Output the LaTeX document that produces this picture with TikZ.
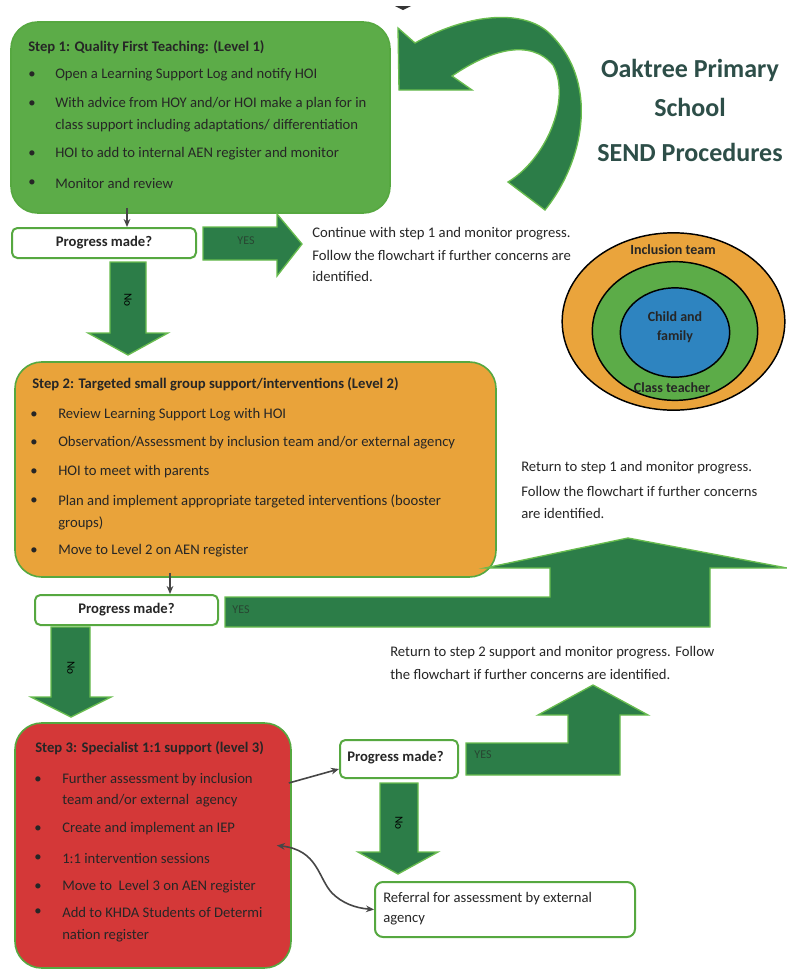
\documentclass[tikz,border=0pt]{standalone}
\usepackage{fontspec}
\setmainfont{Carlito}
\usetikzlibrary{fit,calc,arrows.meta,shapes.geometric}
\definecolor{stepgreen}{RGB}{92,172,72}
\definecolor{steporange}{RGB}{233,163,58}
\definecolor{stepred}{RGB}{212,56,56}
\definecolor{edgegreen}{RGB}{86,168,64}
\definecolor{arrowgreen}{RGB}{44,125,72}
\definecolor{arrowedge}{RGB}{104,188,78}
\definecolor{titlecol}{RGB}{45,78,72}
\definecolor{textcol}{RGB}{38,38,38}
\definecolor{circorange}{RGB}{234,164,60}
\definecolor{circgreen}{RGB}{92,172,72}
\definecolor{circblue}{RGB}{46,132,192}
\definecolor{arrowgray}{RGB}{70,70,70}
\definecolor{yescol}{RGB}{40,70,50}
\newcommand\bodyfont{\fontsize{11}{13}\selectfont}
\newcommand\sidefont{\fontsize{11}{13}\selectfont}
\tikzset{
  stepbox/.style={draw=edgegreen, line width=1.2pt, rounded corners=20pt, inner sep=0pt},
  pbox/.style={draw=edgegreen, line width=1.5pt, fill=white, rounded corners=4pt, inner sep=0pt},
  txt/.style={anchor=west, inner sep=0pt, font=\bodyfont, text=textcol},
  ttl/.style={anchor=west, inner sep=0pt, font=\bodyfont\bfseries, text=textcol},
  side/.style={anchor=west, inner sep=0pt, font=\sidefont, text=textcol},
  bul/.style={anchor=center, inner sep=0pt, font=\bodyfont, text=textcol},
  blockarrow/.style={fill=arrowgreen, draw=arrowedge, line width=1pt, line join=miter},
  yeslbl/.style={inner sep=0pt, font=\fontsize{9}{10}\selectfont, text=yescol},
  nolbl/.style={inner sep=0pt, font=\fontsize{8.5}{10}\selectfont, rotate=-90, text=black},
  thinarr/.style={-{Stealth[length=6pt,width=5pt]}, line width=1.2pt, draw=arrowgray},
  circ/.style={ellipse, draw=black, line width=1.1pt, inner sep=0pt},
  circlbl/.style={inner sep=0pt, font=\fontsize{10.5}{12}\selectfont\bfseries, text=textcol},
  bigtitle/.style={inner sep=0pt, font=\fontsize{19.5}{22}\selectfont\bfseries, text=titlecol}
}
\begin{document}
\begin{tikzpicture}[x=0.75pt,y=-0.75pt]
\useasboundingbox (0,0) rectangle (787,975);
\fill[white] (0,0) rectangle (787,975);

% ---------- big curved arrow ----------
\fill[arrowgreen, draw=arrowedge, line width=1pt, line join=miter]
  (545,210) .. controls (585,160) and (600,80) .. (548,32)
  .. controls (520,8) and (465,15) .. (415,43)
  -- (398,28) -- (399,90) -- (472,90) -- (452,76)
  .. controls (490,50) and (530,38) .. (553,65)
  .. controls (572,100) and (545,160) .. (508,182) -- cycle;
\fill[black!80] (395,6) -- (411,6) -- (403,10) -- cycle;

% ---------- title ----------
\node[bigtitle] (title1) at (690,70) {Oaktree Primary};
\node[bigtitle] (title2) at (690,107) {School};
\node[bigtitle] (title3) at (690,152) {SEND Procedures};

% ---------- step 1 ----------
\node[stepbox, fill=stepgreen, fit={(11,22)(390,213)}] (s1) {};
\node[ttl] (s1t) at (28,47) {Step 1: Quality First Teaching: (Level 1)};
\node[bul] (s1b1) at (32,75) {\textbullet};
\node[txt] (s1l1) at (55,75) {Open a Learning Support Log and notify HOI};
\node[bul] (s1b2) at (32,104) {\textbullet};
\node[txt] (s1l2) at (55,104) {With advice from HOY and/or HOI make a plan for in};
\node[txt] (s1l3) at (55,126) {class support including adaptations/ differentiation};
\node[bul] (s1b3) at (32,154) {\textbullet};
\node[txt] (s1l4) at (55,154) {HOI to add to internal AEN register and monitor};
\node[bul] (s1b4) at (32,183) {\textbullet};
\node[txt] (s1l5) at (55,183) {Monitor and review};

\node[pbox, fit={(12,228)(196,258)}] (p1) {};
\node[ttl, anchor=center] (p1t) at (p1.center) {Progress made?};
\coordinate (c1) at (127,0);
\draw[thinarr] ($(s1.south -| c1)+(0,-6)$) -- (p1.north -| c1);

% yes arrow 1
\fill[blockarrow] (203,227) -- (277,227) -- (277,214) -- (302,244) -- (277,276) -- (277,260) -- (203,260) -- cycle;
\node[yeslbl] (y1) at (246,241) {YES};
\node[side] (c1a) at (312,234) {Continue with step 1 and monitor progress.};
\node[side] (c1b) at (312,255) {Follow the flowchart if further concerns are};
\node[side] (c1c) at (312,276) {identified.};

% no arrow 1
\fill[blockarrow] (110,262) -- (146,262) -- (146,333) -- (168,333) -- (128,355) -- (88,333) -- (110,333) -- cycle;
\node[nolbl] (n1) at (128,300) {No};

% ---------- circles ----------
\node[circ, fill=circorange, minimum width=167pt, minimum height=133pt] (co) at (673.5,321.5) {};
\node[circ, fill=circgreen, minimum width=124pt, minimum height=104pt] (cg) at (675,331) {};
\node[circ, fill=circblue, minimum width=82pt, minimum height=67pt] (cb) at (675,332.5) {};
\node[circlbl] (lo) at (673,250) {Inclusion team};
\node[circlbl, align=center] (lb) at (675,327) {Child and\\[2pt]family};
\node[circlbl] (lg) at (672,388) {Class teacher};

% ---------- step 2 ----------
\node[stepbox, fill=steporange, fit={(15,362)(496,577)}] (s2) {};
\node[ttl] (s2t) at (32,384) {Step 2: Targeted small group support/interventions (Level 2)};
\node[bul] (s2b1) at (34,415) {\textbullet};
\node[txt] (s2l1) at (58,415) {Review Learning Support Log with HOI};
\node[bul] (s2b2) at (34,443) {\textbullet};
\node[txt] (s2l2) at (58,443) {Observation/Assessment by inclusion team and/or external agency};
\node[bul] (s2b3) at (34,472) {\textbullet};
\node[txt] (s2l3) at (58,472) {HOI to meet with parents};
\node[bul] (s2b4) at (34,501) {\textbullet};
\node[txt] (s2l4) at (58,501) {Plan and implement appropriate targeted interventions (booster};
\node[txt] (s2l5) at (58,523) {groups)};
\node[bul] (s2b5) at (34,551) {\textbullet};
\node[txt] (s2l6) at (58,551) {Move to Level 2 on AEN register};

\node[side] (r1a) at (521,468) {Return to step 1 and monitor progress.};
\node[side] (r1b) at (521,491) {Follow the flowchart if further concerns};
\node[side] (r1c) at (521,513) {are identified.};

\node[pbox, fit={(35,595)(218,625)}] (p2) {};
\node[ttl, anchor=center] (p2t) at (p2.center) {Progress made?};
\coordinate (c2) at (170,0);
\draw[thinarr] ($(s2.south -| c2)+(0,-5)$) -- (p2.north -| c2);

% yes arrow 2
\fill[blockarrow] (225,597) -- (550,597) -- (550,568) -- (485,568) -- (628,538) -- (787,568) -- (710,568) -- (710,627) -- (225,627) -- cycle;
\node[yeslbl] (y2) at (241,610) {YES};

% no arrow 2
\fill[blockarrow] (51,627) -- (90,627) -- (90,697) -- (111,697) -- (71,717) -- (31,697) -- (51,697) -- cycle;
\node[nolbl] (n2) at (71,668) {No};

% ---------- step 3 ----------
\node[stepbox, fill=stepred, fit={(15,723)(291,968)}] (s3) {};
\node[ttl] (s3t) at (35,748) {Step 3: Specialist 1:1 support (level 3)};
\node[bul] (s3b1) at (38,780) {\textbullet};
\node[txt] (s3l1) at (62,780) {Further assessment by inclusion};
\node[txt] (s3l2) at (62,801) {team and/or external\ \ agency};
\node[bul] (s3b2) at (38,829) {\textbullet};
\node[txt] (s3l3) at (62,829) {Create and implement an IEP};
\node[bul] (s3b3) at (38,858) {\textbullet};
\node[txt] (s3l4) at (62,858) {1:1 intervention sessions};
\node[bul] (s3b4) at (38,887) {\textbullet};
\node[txt] (s3l5) at (62,887) {Move to\ \ Level 3 on AEN register};
\node[bul] (s3b5) at (38,912) {\textbullet};
\node[txt] (s3l6) at (62,912) {Add to KHDA Students of Determi};
\node[txt] (s3l7) at (62,936) {nation register};

\node[pbox, fit={(340,740)(458,778)}] (p3) {};
\node[ttl] (p3t) at (347,758) {Progress made?};
\coordinate (c3) at (0,783);
\draw[thinarr] ($(s3.east |- c3)+(-3,0)$) -- ($(p3.west)+(0,10)$);

\node[side] (r2a) at (390,653) {Return to step 2 support and monitor progress. Follow};
\node[side] (r2b) at (390,674) {the flowchart if further concerns are identified.};

% yes arrow 3
\fill[blockarrow] (466,743) -- (568,743) -- (568,715) -- (538,715) -- (593,685) -- (648,715) -- (620,715) -- (620,775) -- (466,775) -- cycle;
\node[yeslbl] (y3) at (483,755) {YES};

% no arrow 3
\fill[blockarrow] (380,783) -- (418,783) -- (418,852) -- (438,852) -- (398,874) -- (358,852) -- (380,852) -- cycle;
\node[nolbl] (n3) at (399,823) {No};

\node[pbox, rounded corners=6pt, fit={(375,882)(635,937)}] (ref) {};
\node[txt] (refa) at (383,899) {Referral for assessment by external};
\node[txt] (refb) at (383,920) {agency};

\draw[{Stealth[length=6pt,width=5pt]}-{Stealth[length=6pt,width=5pt]}, line width=1.2pt, draw=arrowgray]
  ($(s3.east)+(-15,0)$) .. controls (318,850) and (318,878) .. (332,893)
  .. controls (342,903) and (355,908) .. (ref.west);
\end{tikzpicture}
\end{document}
